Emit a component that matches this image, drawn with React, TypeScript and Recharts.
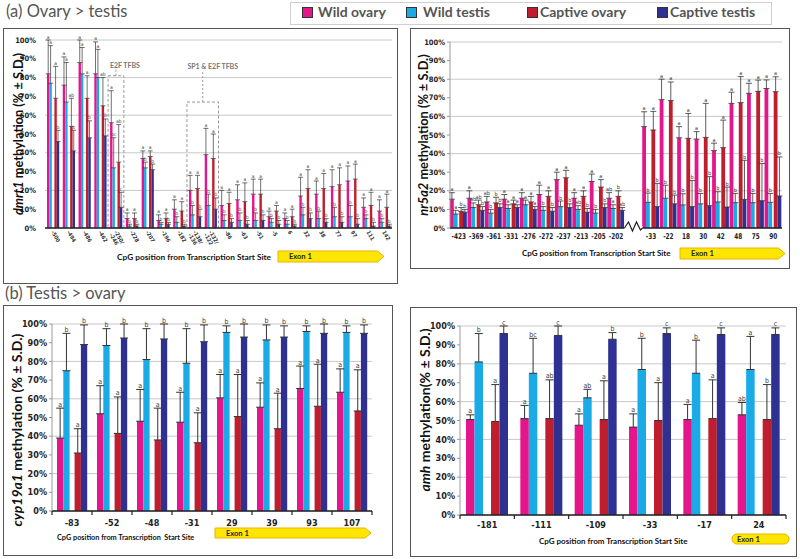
import React from "react";
import {
  Bar,
  BarChart,
  CartesianGrid,
  ErrorBar,
  LabelList,
  ReferenceArea,
  XAxis,
  YAxis,
} from "recharts";

const PINK = "#E5168B";
const BLUE = "#1AAAE6";
const RED = "#BE1E2D";
const NAVY = "#2E3192";

const NARROW = "'Liberation Sans Narrow', 'Arial Narrow', 'DejaVu Sans Condensed', sans-serif";
const SANS = "Lato, 'Open Sans', sans-serif";

const PCT_TICKS = [0, 10, 20, 30, 40, 50, 60, 70, 80, 90, 100];

// (a) dmrt1
const dmrt1Sites = [
  "-500", "-494", "-486", "-462", "-250/-246", "-228", "-207", "-196", "-182", "-138/-136", "-132/-122",
  "-86", "-63", "-51", "-5", "6", "32", "38", "77", "97", "111", "142",
];
const dmrt1WildOvary = [82, 76, 88, 82, 56, 5, 37, 4, 10, 20, 39, 12, 15, 18, 6, 5, 17, 18, 22, 25, 11, 9];
const dmrt1WildOvarySd = [18, 15, 12, 17, 17, 3, 4, 3, 5, 8, 14, 8, 8, 8, 3, 3, 10, 7, 9, 8, 5, 6];
const dmrt1WildTestis = [77, 67, 82, 80, 32, 1, 32, 2, 3, 7, 12, 4, 4, 4, 3, 2, 7, 5, 6, 6, 5, 3];
const dmrt1WildTestisSd = [20, 21, 14, 15, 16, 1, 3, 1, 3, 5, 6, 3, 4, 4, 2, 2, 4, 4, 5, 6, 2, 2];
const dmrt1CaptiveOvary = [69, 54, 69, 65, 35, 5, 38, 5, 9, 21, 37, 13, 14, 18, 9, 6, 21, 21, 23, 26, 12, 11];
const dmrt1CaptiveOvarySd = [17, 15, 12, 15, 20, 3, 3, 3, 5, 7, 13, 6, 10, 8, 3, 4, 10, 8, 9, 8, 7, 7];
const dmrt1CaptiveTestis = [46, 41, 48, 49, 11, 1, 31, 2, 1, 6, 10, 3, 2, 4, 2, 1, 5, 3, 3, 2, 1, 1];
const dmrt1CaptiveTestisSd = [6, 11, 9, 9, 8, 1, 3, 1, 1, 4, 6, 2, 2, 3, 2, 1, 3, 2, 3, 3, 2, 1];
const dmrt1LettersWO = ["a", "a", "a", "a", "a", "a", "a", "a", "a", "a", "a", "a", "a", "a", "a", "a", "a", "a", "a", "a", "a", "a"];
const dmrt1LettersWT = ["a", "a", "a", "a", "bc", "b", "b", "b", "b", "b", "b", "b", "b", "b", "b", "b", "b", "b", "b", "b", "b", "b"];
const dmrt1LettersCO = ["a", "ab", "a", "ab", "ab", "a", "a", "a", "a", "a", "a", "a", "a", "a", "a", "a", "a", "a", "a", "a", "a", "a"];
const dmrt1LettersCT = ["b", "b", "b", "b", "c", "b", "b", "b", "b", "b", "b", "b", "b", "b", "b", "b", "b", "b", "b", "b", "b", "b"];

// (a) nr5a2 ("~" marks the axis break)
const nr5a2Sites = ["-423", "-369", "-361", "-331", "-276", "-272", "-237", "-213", "-205", "-202", "~", "-33", "-22", "18", "30", "42", "48", "75", "90"];
const nr5a2WildOvary = [15.5, 16, 14, 15.5, 16, 18, 26, 16, 25, 16, null, 54.5, 69, 48.5, 47.8, 41.6, 67, 72.4, 75];
const nr5a2WildOvarySd = [3.5, 4, 3, 2.5, 3, 5, 4, 3, 4, 3, null, 8, 11, 6, 4, 4, 6, 5.4, 4.6];
const nr5a2WildTestis = [7.5, 11, 8, 10.5, 12.5, 9.5, 11.5, 10, 8, 10.5, null, 13.8, 16, 12.4, 13, 14, 13.6, 13.6, 13.8];
const nr5a2WildTestisSd = [2, 2.5, 2, 2, 2.5, 2, 3, 2, 2, 2, null, 5, 7, 6, 5.6, 5.5, 5, 5, 4.8];
const nr5a2CaptiveOvary = [9, 12.5, 13.5, 13, 14, 17, 27, 17, 22, 17, null, 52.7, 68.5, 48.2, 48.7, 43.2, 67.4, 73.5, 73.3];
const nr5a2CaptiveOvarySd = [2, 2.5, 3, 2, 3, 3, 4, 3, 4, 3, null, 10, 10, 13.4, 18.3, 14.8, 14, 6, 8];
const nr5a2CaptiveTestis = [8.5, 9.5, 11, 11, 10, 9, 11, 8.5, 11, 9.5, null, 11.5, 13, 11.5, 12, 11.3, 15.4, 14.7, 17.2];
const nr5a2CaptiveTestisSd = [1.5, 2, 2, 1.5, 1.5, 2, 2, 2, 2, 1.5, null, 12.5, 4.7, 14, 15.6, 10.7, 21, 20, 21];
const nr5a2LettersWO = ["a", "a", "ab", "a", "a", "a", "a", "a", "a", "ab", "", "a", "a", "a", "a", "a", "a", "a", "a"];
const nr5a2LettersWT = ["a", "ab", "b", "a", "a", "b", "b", "ab", "b", "a", "", "b", "b", "b", "b", "b", "b", "b", "b"];
const nr5a2LettersCO = ["b", "ab", "b", "a", "a", "a", "a", "a", "a", "b", "", "a", "a", "a", "a", "a", "a", "a", "a"];
const nr5a2LettersCT = ["b", "b", "b", "a", "a", "b", "b", "b", "b", "ab", "", "b", "b", "b", "b", "b", "b", "b", "b"];

// (b) cyp19a1
const cypSites = ["-83", "-52", "-48", "-31", "29", "39", "93", "107"];
const cypWildOvary = [39, 52, 48, 47.5, 60.5, 55.5, 65.5, 63.5];
const cypWildOvarySd = [16, 15, 17, 16, 12.5, 13, 12, 12.5];
const cypWildTestis = [75, 88.5, 81, 79, 95.5, 91.5, 96, 95.5];
const cypWildTestisSd = [20, 9, 16.5, 18.5, 3.5, 8, 3, 3.5];
const cypCaptiveOvary = [31, 41.5, 38, 36.5, 50.5, 44, 56, 53.5];
const cypCaptiveOvarySd = [13, 19.5, 17, 16, 22.5, 19, 22.5, 22];
const cypCaptiveTestis = [89, 92.5, 92, 90.5, 93, 93, 95, 95];
const cypCaptiveTestisSd = [10.5, 7.5, 8, 9, 7, 6, 5, 4.5];
const cypLettersWO = ["a", "a", "a", "a", "a", "a", "a", "a"];
const cypLettersWT = ["b", "b", "b", "b", "b", "b", "b", "b"];
const cypLettersCO = ["a", "a", "a", "a", "a", "a", "a", "a"];
const cypLettersCT = ["b", "b", "b", "b", "b", "b", "b", "b"];

// (b) amh
const amhSites = ["-181", "-111", "-109", "-33", "-17", "24"];
const amhWildOvary = [50.5, 51, 47.5, 46.5, 50.5, 53];
const amhWildOvarySd = [2.5, 7, 6, 7, 8, 6.5];
const amhWildTestis = [81, 75, 62, 77, 75, 77];
const amhWildTestisSd = [15, 18.5, 4.5, 16.5, 17.5, 17.5];
const amhCaptiveOvary = [49.5, 51, 50.5, 50, 51, 50.5];
const amhCaptiveOvarySd = [19.5, 20.5, 20.5, 20, 20.5, 18.5];
const amhCaptiveTestis = [96, 95, 93, 96, 95.5, 95.5];
const amhCaptiveTestisSd = [4, 5, 3.5, 3, 3.5, 3.5];
const amhLettersWO = ["a", "a", "a", "a", "a", "ab"];
const amhLettersWT = ["b", "bc", "ab", "b", "b", "a"];
const amhLettersCO = ["a", "ab", "a", "a", "a", "b"];
const amhLettersCT = ["c", "c", "b", "c", "c", "c"];

type Series = { key: string; vals: (number | null)[]; sds: (number | null)[]; letters: string[] };

function buildRows(sites: string[], series: Series[]) {
  return sites.map((site, i) => {
    const row: any = { site };
    series.forEach((s) => {
      const v = s.vals[i];
      if (v == null) return;
      const sd = s.sds[i] ?? 0;
      row[s.key] = v;
      row[s.key + "E"] = [0, sd];
      row[s.key + "L"] = `${s.letters[i]}|${v}|${sd}`;
    });
    return row;
  });
}

const dmrt1Rows = buildRows(dmrt1Sites, [
  { key: "wo", vals: dmrt1WildOvary, sds: dmrt1WildOvarySd, letters: dmrt1LettersWO },
  { key: "wt", vals: dmrt1WildTestis, sds: dmrt1WildTestisSd, letters: dmrt1LettersWT },
  { key: "co", vals: dmrt1CaptiveOvary, sds: dmrt1CaptiveOvarySd, letters: dmrt1LettersCO },
  { key: "ct", vals: dmrt1CaptiveTestis, sds: dmrt1CaptiveTestisSd, letters: dmrt1LettersCT },
]);
const nr5a2Rows = buildRows(nr5a2Sites, [
  { key: "wo", vals: nr5a2WildOvary, sds: nr5a2WildOvarySd, letters: nr5a2LettersWO },
  { key: "wt", vals: nr5a2WildTestis, sds: nr5a2WildTestisSd, letters: nr5a2LettersWT },
  { key: "co", vals: nr5a2CaptiveOvary, sds: nr5a2CaptiveOvarySd, letters: nr5a2LettersCO },
  { key: "ct", vals: nr5a2CaptiveTestis, sds: nr5a2CaptiveTestisSd, letters: nr5a2LettersCT },
]);
const cypRows = buildRows(cypSites, [
  { key: "wo", vals: cypWildOvary, sds: cypWildOvarySd, letters: cypLettersWO },
  { key: "wt", vals: cypWildTestis, sds: cypWildTestisSd, letters: cypLettersWT },
  { key: "co", vals: cypCaptiveOvary, sds: cypCaptiveOvarySd, letters: cypLettersCO },
  { key: "ct", vals: cypCaptiveTestis, sds: cypCaptiveTestisSd, letters: cypLettersCT },
]);
const amhRows = buildRows(amhSites, [
  { key: "wo", vals: amhWildOvary, sds: amhWildOvarySd, letters: amhLettersWO },
  { key: "wt", vals: amhWildTestis, sds: amhWildTestisSd, letters: amhLettersWT },
  { key: "co", vals: amhCaptiveOvary, sds: amhCaptiveOvarySd, letters: amhLettersCO },
  { key: "ct", vals: amhCaptiveTestis, sds: amhCaptiveTestisSd, letters: amhLettersCT },
]);

// significance letter sitting on top of the error bar
const letterLabel = (fs: number) => (p: any) => {
  const vb = p.viewBox ?? {};
  const x = Number(p.x ?? vb.x);
  const y = Number(p.y ?? vb.y);
  const w = Number(p.width ?? vb.width);
  const h = Number(p.height ?? vb.height);
  if (!p.value) return null;
  const [txt, v, e] = String(p.value).split("|");
  const val = Number(v);
  const sd = Number(e);
  if (!txt || !(val > 0) || !isFinite(y)) return null;
  const top = y - (h / val) * sd;
  return (
    <text x={x + w / 2} y={top - 1.5} textAnchor="middle" fontSize={fs} fill="#3c3c3c" stroke="none" fontFamily={NARROW}>
      {txt}
    </text>
  );
};

const SERIES = [
  { key: "wo", color: PINK },
  { key: "wt", color: BLUE },
  { key: "gap", color: "none" },
  { key: "co", color: RED },
  { key: "ct", color: NAVY },
];

function renderBars(size: number, gap: number, cap: number, fs: number, sw: number) {
  return SERIES.map((s) =>
    s.key === "gap" ? (
      <Bar key="gap" dataKey="gap" barSize={gap} fill="none" isAnimationActive={false} />
    ) : (
      <Bar key={s.key} dataKey={s.key} fill={s.color} barSize={size} isAnimationActive={false}>
        <ErrorBar dataKey={s.key + "E"} width={cap} stroke="#333" strokeWidth={sw} direction="y" />
        <LabelList dataKey={s.key + "L"} content={letterLabel(fs)} />
      </Bar>
    )
  );
}

const SlantTick = (p: any) => {
  const { x, y, payload } = p;
  const parts = String(payload.value).split("/");
  return (
    <g transform={`translate(${x - 2},${y + 4})`}>
      <text transform="rotate(60)" fontSize={5.5} fill="#333" fontFamily={NARROW} fontWeight={700}>
        {parts.map((t, i) => (
          <tspan key={i} x={0} dy={i === 0 ? 0 : 5.5}>
            {i < parts.length - 1 ? t + "/" : t}
          </tspan>
        ))}
      </text>
    </g>
  );
};

const BreakTick = (p: any) => {
  const { x, y, payload } = p;
  if (payload.value === "~") {
    return (
      <g>
        <rect x={x - 9} y={y - 2} width={18} height={4} fill="#fff" />
        <polyline
          points={`${x - 9},${y} ${x - 5},${y - 6} ${x - 1},${y + 3} ${x + 3},${y - 6} ${x + 7},${y + 2} ${x + 9},${y}`}
          fill="none"
          stroke="#222"
          strokeWidth={1.2}
        />
      </g>
    );
  }
  return (
    <text
      transform={`translate(${x},${y + 11}) scale(0.8,1)`}
      textAnchor="middle"
      fontSize={8}
      fontWeight={700}
      fill="#222"
      fontFamily={NARROW}
    >
      {payload.value}
    </text>
  );
};

const BoundTick = (p: any) => {
  const { x, y, payload, step, dy, fs, last } = p;
  return (
    <g>
      <line x1={x - step / 2} x2={x - step / 2} y1={y} y2={y + 4} stroke="#222" strokeWidth={1.2} />
      {payload.value === last && <line x1={x + step / 2} x2={x + step / 2} y1={y} y2={y + 4} stroke="#222" strokeWidth={1.2} />}
      <text x={x} y={y + dy} textAnchor="middle" fontSize={fs} fontWeight={700} fill="#222" fontFamily={NARROW}>
        {payload.value}
      </text>
    </g>
  );
};

const boxLabel = (text: string, dx: number, rise: number) => (p: any) => {
  const vb = p.viewBox ?? p;
  const cx = vb.x + vb.width / 2;
  return (
    <g>
      <line x1={cx} x2={cx} y1={vb.y} y2={vb.y - rise} stroke="#999" strokeDasharray="2 2" />
      <text x={cx + dx} y={vb.y - rise - 2} textAnchor="middle" fontSize={7} fontWeight={700} fill="#777" fontFamily={SANS}>
        {text}
      </text>
    </g>
  );
};

function YTitle({ gene, rest, cx, cy, size }: { gene: string; rest: string; cx: number; cy: number; size: number }) {
  return (
    <div
      style={{
        position: "absolute",
        left: cx,
        top: cy,
        transform: "translate(-50%,-50%) rotate(-90deg)",
        whiteSpace: "nowrap",
        fontFamily: SANS,
        fontWeight: 700,
        fontSize: size,
        color: "#111",
        lineHeight: 1,
      }}
    >
      <i>{gene}</i>
      {rest}
    </div>
  );
}

function XTitle({ x, y, text, size = 8.3 }: { x: number; y: number; text: string; size?: number }) {
  return (
    <div
      style={{
        position: "absolute",
        left: x,
        top: y,
        whiteSpace: "pre",
        fontFamily: SANS,
        fontWeight: 700,
        fontSize: size,
        color: "#111",
        lineHeight: 1,
      }}
    >
      {text}
    </div>
  );
}

function Exon({ x, y, w, h, rounded }: { x: number; y: number; w: number; h: number; rounded?: boolean }) {
  const tip = h * 0.6;
  return (
    <svg style={{ position: "absolute", left: x, top: y }} width={w + 2} height={h + 2}>
      {rounded ? (
        <rect x={1} y={1} width={w} height={h} rx={h / 2} fill="#FFE600" stroke="#E9B200" strokeWidth={1} />
      ) : (
        <polygon
          points={`1,1 ${w - tip},1 ${w},${h / 2 + 1} ${w - tip},${h + 1} 1,${h + 1}`}
          fill="#FFE600"
          stroke="#E9B200"
          strokeWidth={1}
        />
      )}
      <text x={rounded ? 6 : 12} y={h / 2 + 3.5} fontSize={7.5} fontWeight={700} fill="#222" fontFamily={SANS}>
        Exon 1
      </text>
    </svg>
  );
}

function Box({ x, y, w, h }: { x: number; y: number; w: number; h: number }) {
  return (
    <div
      style={{
        position: "absolute",
        left: x,
        top: y,
        width: w,
        height: h,
        boxSizing: "border-box",
        border: "1.5px solid #555",
      }}
    />
  );
}

const yTick = (fs: number) => ({ fontSize: fs, fontWeight: 700, fill: "#222", fontFamily: NARROW });

const LEGEND = [
  { label: "Wild ovary", color: PINK, sq: 302, tx: 318 },
  { label: "Wild testis", color: BLUE, sq: 406, tx: 423 },
  { label: "Captive ovary", color: RED, sq: 527, tx: 540 },
  { label: "Captive testis", color: NAVY, sq: 657, tx: 670 },
];

export default function App() {
  return (
    <div
      style={{
        position: "absolute",
        left: 0,
        top: 0,
        width: 800,
        height: 559,
        background: "#fff",
        overflow: "hidden",
        fontFamily: SANS,
      }}
    >
      {/* headings */}
      <div style={{ position: "absolute", left: 6, top: 3, fontSize: 16.5, color: "#555", lineHeight: 1 }}>(a) Ovary &gt; testis</div>
      <div style={{ position: "absolute", left: 5, top: 285, fontSize: 16.5, color: "#555", lineHeight: 1 }}>(b) Testis &gt; ovary</div>

      {/* legend */}
      <div style={{ position: "absolute", left: 290, top: 2, width: 482, height: 23, boxSizing: "border-box", border: "1px solid #cfcfcf" }} />
      {LEGEND.map((l) => (
        <React.Fragment key={l.label}>
          <div
            style={{
              position: "absolute",
              left: l.sq,
              top: 7,
              width: 11,
              height: 11,
              boxSizing: "border-box",
              background: l.color,
              border: "1px solid #333",
            }}
          />
          <div style={{ position: "absolute", left: l.tx, top: 5, fontSize: 14, fontWeight: 700, color: "#555", lineHeight: 1 }}>
            {l.label}
          </div>
        </React.Fragment>
      ))}

      {/* dmrt1 */}
      <Box x={3} y={28} w={395} h={256} />
      <div style={{ position: "absolute", left: 3, top: 28 }}>
        <BarChart width={395} height={256} data={dmrt1Rows} margin={{ top: 12, right: 6, left: 0, bottom: 26 }} barGap={0}>
          <CartesianGrid vertical={false} stroke="#c8c8c8" />
          <XAxis
            dataKey="site"
            interval={0}
            height={30}
            tick={<SlantTick />}
            tickLine={false}
            tickSize={0}
            tickMargin={0}
            axisLine={{ stroke: "#222", strokeWidth: 1.5 }}
          />
          <YAxis
            domain={[0, 100]}
            ticks={PCT_TICKS}
            tickFormatter={(v) => `${v}%`}
            width={42}
            tick={yTick(7.5)}
            axisLine={false}
            tickLine={false}
            tickMargin={3}
          />
          <ReferenceArea
            x1="-250/-246"
            x2="-250/-246"
            y1={0}
            y2={81}
            fill="none"
            stroke="#999"
            strokeDasharray="3 2"
            label={boxLabel("E2F TFBS", 9, 6)}
          />
          <ReferenceArea
            x1="-138/-136"
            x2="-132/-122"
            y1={0}
            y2={67}
            fill="none"
            stroke="#999"
            strokeDasharray="3 2"
            label={boxLabel("SP1 & E2F TFBS", 10, 31)}
          />
          {renderBars(2.4, 2.6, 2.5, 5, 0.7)}
        </BarChart>
      </div>
      <YTitle gene="dmrt1" rest=" methylation (% ± S.D.)" cx={18} cy={134} size={12.8} />
      <XTitle x={117} y={253} text="CpG position from Transcription Start Site" />
      <Exon x={277} y={250} w={107} h={11} />

      {/* nr5a2 */}
      <Box x={410} y={28} w={380} h={241} />
      <div style={{ position: "absolute", left: 410, top: 28 }}>
        <BarChart width={380} height={240} data={nr5a2Rows} margin={{ top: 14, right: 8, left: 0, bottom: 20 }} barGap={0}>
          <CartesianGrid vertical={false} stroke="#c8c8c8" />
          <XAxis
            dataKey="site"
            interval={0}
            height={20}
            tick={<BreakTick />}
            tickLine={false}
            tickSize={0}
            tickMargin={0}
            axisLine={{ stroke: "#222", strokeWidth: 1.5 }}
          />
          <YAxis
            domain={[0, 100]}
            ticks={PCT_TICKS}
            tickFormatter={(v) => `${v}%`}
            width={40}
            tick={yTick(7.5)}
            axisLine={{ stroke: "#999" }}
            tickLine={{ stroke: "#999" }}
            tickSize={3}
          />
          {renderBars(3.8, 1.6, 3, 5.5, 0.8)}
        </BarChart>
      </div>
      <YTitle gene="nr5a2" rest=" methylation (% ± S.D.)" cx={423} cy={135} size={12.8} />
      <XTitle x={522} y={249} text="CpG position from Transcription Start Site" size={8} />
      <Exon x={679} y={247} w={106} h={11} />

      {/* cyp19a1 */}
      <Box x={3} y={305} w={390} h={251} />
      <div style={{ position: "absolute", left: 3, top: 305 }}>
        <BarChart width={390} height={250} data={cypRows} margin={{ top: 19, right: 21, left: 0, bottom: 20 }} barGap={0}>
          <CartesianGrid vertical={false} stroke="#c8c8c8" />
          <XAxis
            dataKey="site"
            interval={0}
            height={24}
            tick={<BoundTick step={40} dy={15} fs={9} last="107" />}
            tickLine={false}
            tickSize={0}
            tickMargin={0}
            axisLine={{ stroke: "#222", strokeWidth: 1.5 }}
          />
          <YAxis
            domain={[0, 100]}
            ticks={PCT_TICKS}
            tickFormatter={(v) => `${v}%`}
            width={49}
            tick={yTick(9)}
            axisLine={{ stroke: "#999" }}
            tickLine={{ stroke: "#999" }}
            tickSize={3}
          />
          {renderBars(6.3, 5, 4, 7, 1)}
        </BarChart>
      </div>
      <YTitle gene="cyp19a1" rest=" methylation (% ± S.D.)" cx={17} cy={430} size={14} />
      <XTitle x={57} y={534} text="CpG position from Transcription  Start Site" size={7.3} />
      <Exon x={214} y={527} w={157} h={10} />

      {/* amh */}
      <Box x={410} y={307} w={387} h={250} />
      <div style={{ position: "absolute", left: 410, top: 307 }}>
        <BarChart width={387} height={249} data={amhRows} margin={{ top: 19, right: 11, left: 0, bottom: 20 }} barGap={0}>
          <CartesianGrid vertical={false} stroke="#c8c8c8" />
          <XAxis
            dataKey="site"
            interval={0}
            height={21}
            tick={<BoundTick step={326 / 6} dy={13} fs={9} last="24" />}
            tickLine={false}
            tickSize={0}
            tickMargin={0}
            axisLine={{ stroke: "#222", strokeWidth: 1.5 }}
          />
          <YAxis
            domain={[0, 100]}
            ticks={PCT_TICKS}
            tickFormatter={(v) => `${v}%`}
            width={50}
            tick={yTick(9)}
            axisLine={{ stroke: "#999" }}
            tickLine={{ stroke: "#999" }}
            tickSize={3}
          />
          {renderBars(8.5, 8, 4, 7, 1)}
        </BarChart>
      </div>
      <YTitle gene="amh" rest=" methylation(% ± S.D.)" cx={425} cy={410} size={14} />
      <XTitle x={539} y={537} text="CpG position from Transcription Start Site" size={8} />
      <Exon x={731} y={533} w={57} h={10} rounded />
    </div>
  );
}
